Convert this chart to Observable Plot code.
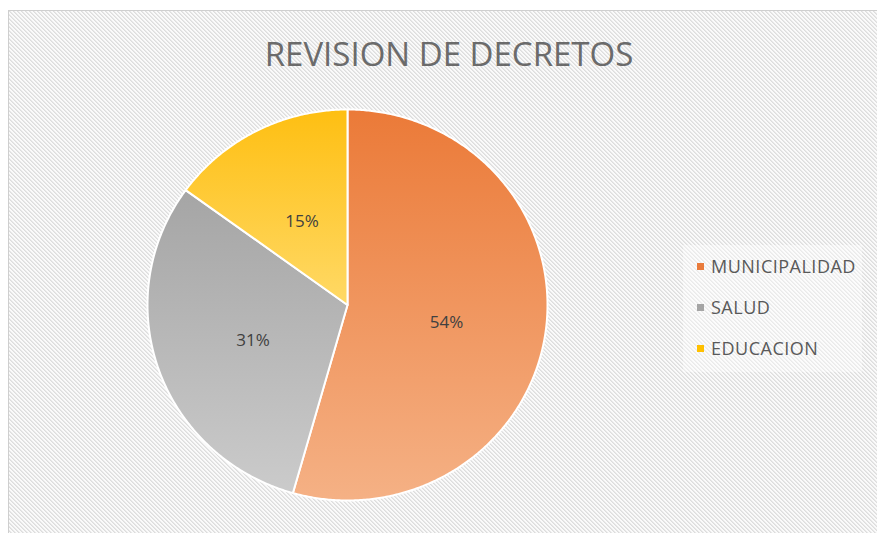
<!DOCTYPE html>
<html>
<head>
<meta charset="utf-8">
<script src="https://cdn.jsdelivr.net/npm/d3@7"></script>
<script src="https://cdn.jsdelivr.net/npm/@observablehq/plot@0.6"></script>
<style>
  html, body { margin: 0; padding: 0; background: #ffffff; width: 877px; height: 533px; overflow: hidden; }
  #frame {
    position: absolute; left: 8px; top: 10px; width: 869px; height: 523px; box-sizing: border-box;
    border-top: 1px solid #cfcfcf; border-left: 1px solid #cfcfcf; background-color: #eeeeee;
  }
  #chart { position: absolute; left: 0; top: 0; }
  #title {
    position: absolute; left: 449px; top: 37px; transform: translateX(-50%);
    font-family: "Open Sans", sans-serif; font-size: 33px; line-height: 33px; color: #6b6b6b;
    white-space: nowrap; letter-spacing: 0px;
  }
  #legendBox { position: absolute; left: 683px; top: 245px; width: 179px; height: 127px; background: rgba(255,255,255,0.4); }
  .item { position: absolute; left: 697px; font-family: "Open Sans", sans-serif; font-size: 18px; letter-spacing: 0.5px; color: #595959; white-space: nowrap; }
  .sw { display: inline-block; width: 7px; height: 7px; margin-right: 7px; vertical-align: middle; position: relative; top: -2px; }
</style>
</head>
<body>
<div id="frame"></div>
<div id="chart"></div>
<div id="title">REVISION DE DECRETOS</div>
<div id="legendBox"></div>
<div id="legend"></div>
<script>
const title = "REVISION DE DECRETOS";
const categories = ["MUNICIPALIDAD", "SALUD", "EDUCACION"];
const values = [54.4, 30.6, 15.0];
const labels = ["54%", "31%", "15%"];
const colorsTop = ["#EB7A38", "#A5A5A5", "#FEBF12"];
const colorsBottom = ["#F5B185", "#CBCBCB", "#FFD966"];
const legendColors = ["#E97B3C", "#A5A5A5", "#FFC000"];

// diagonal hatch background tile
(function () {
  const c = document.createElement("canvas");
  c.width = 4; c.height = 4;
  const ctx = c.getContext("2d");
  ctx.fillStyle = "#fafafa"; ctx.fillRect(0, 0, 4, 4);
  for (let k = 0; k < 4; k++) {
    ctx.fillStyle = "#dddddd"; ctx.fillRect(k, k, 1, 1);
    ctx.fillStyle = "#e8e8e8"; ctx.fillRect((k + 1) % 4, k, 1, 1);
  }
  document.getElementById("frame").style.backgroundImage = `url(${c.toDataURL()})`;
})();

const arcs = d3.pie().sort(null).value(d => d)(values);

const slices = arcs.map((a, i) => {
  const pts = [{x: 0, y: 0}];
  const n = Math.max(2, Math.ceil((a.endAngle - a.startAngle) / (Math.PI / 360)));
  for (let k = 0; k <= n; k++) {
    const t = a.startAngle + (a.endAngle - a.startAngle) * k / n;
    pts.push({x: Math.sin(t), y: Math.cos(t)});
  }
  pts.push({x: 0, y: 0});
  return pts;
});

const labelData = arcs.map((a, i) => {
  const m = (a.startAngle + a.endAngle) / 2;
  return {x: 0.5 * Math.sin(m), y: 0.5 * Math.cos(m), text: labels[i]};
});

const marks = slices.map((pts, i) =>
  Plot.line(pts, {x: "x", y: "y", fill: `url(#grad${i})`, stroke: "white", strokeWidth: 2, strokeLinejoin: "round"})
);
marks.push(Plot.text(labelData, {x: "x", y: "y", text: "text", fontSize: 17, dy: 4, fill: "#404040", fontFamily: "Open Sans"}));

const svg = Plot.plot({
  width: 877, height: 533,
  marginTop: 0, marginRight: 0, marginBottom: 0, marginLeft: 0,
  x: {domain: [-1, 1], range: [147, 547], axis: null},
  y: {domain: [-1, 1], range: [500, 109], axis: null},
  style: {background: "transparent"},
  marks
});

const defs = d3.select(svg).insert("defs", ":first-child");
colorsTop.forEach((c, i) => {
  const g = defs.append("linearGradient").attr("id", "grad" + i)
    .attr("x1", 0).attr("y1", 0).attr("x2", 0).attr("y2", 1);
  g.append("stop").attr("offset", "0%").attr("stop-color", c);
  g.append("stop").attr("offset", "100%").attr("stop-color", colorsBottom[i]);
});

document.getElementById("chart").appendChild(svg);

const legend = document.getElementById("legend");
const rowTops = [254, 295, 336];
categories.forEach((c, i) => {
  const d = document.createElement("div");
  d.className = "item";
  d.style.top = rowTops[i] + "px";
  d.innerHTML = `<span class="sw" style="background:${legendColors[i]}"></span>${c}`;
  legend.appendChild(d);
});
</script>
</body>
</html>
